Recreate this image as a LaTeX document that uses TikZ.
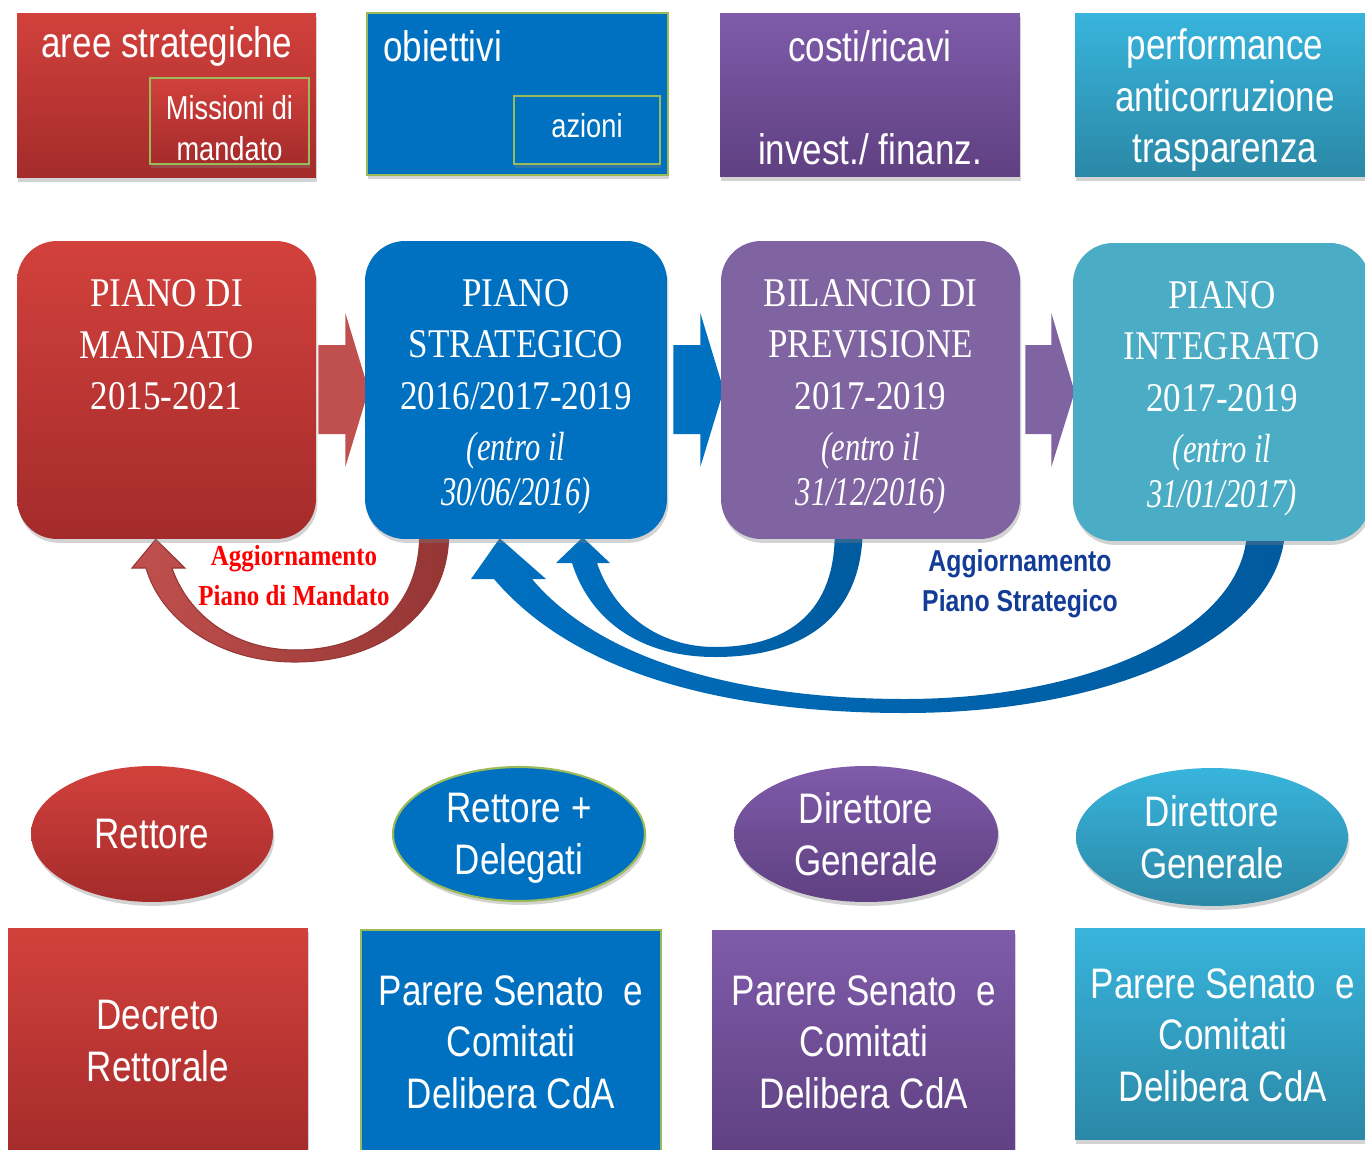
\documentclass[tikz,border=0pt]{standalone}
\usepackage{fontspec}
\usetikzlibrary{shadows,calc,shapes.geometric}
\newfontfamily\nsans[FakeStretch=0.82]{Liberation Sans}
\newfontfamily\nserif[FakeStretch=0.86]{Liberation Serif}
\newfontface\nserifit[FakeStretch=0.75]{Liberation Serif Italic}
\definecolor{rtop}{HTML}{D2413C}
\definecolor{rbot}{HTML}{A42B2B}
\definecolor{bluef}{HTML}{0070C0}
\definecolor{ptop}{HTML}{7F5BAA}
\definecolor{pbot}{HTML}{5F4081}
\definecolor{pmid}{HTML}{8064A2}
\definecolor{ttop}{HTML}{38B4DC}
\definecolor{tbot}{HTML}{2B88A6}
\definecolor{tmid}{HTML}{4BACC6}
\definecolor{lgreen}{HTML}{9BBB59}
\definecolor{arrred}{HTML}{C0504D}
\definecolor{arrreddk}{HTML}{943634}
\definecolor{bluedk}{HTML}{005A9E}
\definecolor{labblue}{HTML}{123C96}
\pgfdeclarelayer{bg}
\pgfsetlayers{bg,main}
\begin{document}
\begin{tikzpicture}[x=0.02cm,y=-0.02cm,
  shad/.style={drop shadow={shadow xshift=0.8pt,shadow yshift=-2.2pt,opacity=0.35}},
  box/.style={rectangle,inner sep=0pt,draw=none,shad},
  rbox/.style={box,rounded corners=0.8cm,minimum height=5.96cm},
  redg/.style={top color=rtop,bottom color=rbot},
  purg/.style={top color=ptop,bottom color=pbot},
  teag/.style={top color=ttop,bottom color=tbot},
  gborder/.style={draw=lgreen,line width=1.2pt},
  sans/.style={font=\nsans\fontsize{24.3}{29.3}\selectfont,text=white,align=center},
  small/.style={font=\nsans\fontsize{18.9}{23}\selectfont,text=white,align=center},
  serif/.style={font=\nserif\fontsize{23.2}{29.2}\selectfont,text=white,align=center},
  ell/.style={ellipse,inner sep=0pt,shad,sans},
]
\useasboundingbox (0,0) rectangle (1365,1149);

% ---------- top row ----------
\node[box,redg,minimum width=5.98cm,minimum height=3.3cm] (t1) at (166.5,95.5) {};
\node[sans] (t1a) at (167,46) {aree strategiche};
\node[box,redg,gborder,minimum width=3.18cm,minimum height=1.72cm] (t1b) at (229.5,121) {};
\node[small] (t1c) at (229.5,128) {Missioni di\\mandato};

\node[box,gborder,fill=bluef,minimum width=6.02cm,minimum height=3.24cm] (t2) at (517.5,94) {};
\node[sans,anchor=west] (t2a) at (377,46) {obiettivi};
\node[box,gborder,fill=bluef,minimum width=2.92cm,minimum height=1.36cm] (t2b) at (587,130) {};
\node[small] (t2c) at (587,126) {azioni};

\node[box,purg,minimum width=6cm,minimum height=3.28cm] (t3) at (870,95) {};
\node[sans] (t3a) at (870,46) {costi/ricavi};
\node[sans] (t3b) at (870,149) {invest./ finanz.};

\node[box,teag,minimum width=5.9cm,minimum height=3.28cm] (t4) at (1222.5,95) {};
\node[sans] (t4a) at (1225,100) {performance\\anticorruzione\\trasparenza};

% ---------- middle row ----------
\node[rbox,redg,minimum width=5.98cm] (m1) at (166.5,390) {};
\node[serif] (m1t) at (166.5,345) {PIANO DI\\MANDATO\\2015-2021};
\node[rbox,fill=bluef,minimum width=6.04cm] (m2) at (516,390) {};
\node[serif] (m2t) at (516,397) {PIANO\\STRATEGICO\\2016/2017-2019\\{\nserifit (entro il}\\[-3.5pt]{\nserifit 30/06/2016)}};
\node[rbox,fill=pmid,minimum width=5.98cm] (m3) at (870.5,390) {};
\node[serif] (m3t) at (870.5,397) {BILANCIO DI\\PREVISIONE\\2017-2019\\{\nserifit (entro il}\\[-3.5pt]{\nserifit 31/12/2016)}};
\node[rbox,fill=tmid,minimum width=5.94cm] (m4) at (1221.5,392) {};
\node[serif] (m4t) at (1222,399) {PIANO\\INTEGRATO\\2017-2019\\{\nserifit (entro il}\\[-3.5pt]{\nserifit 31/01/2017)}};

% ---------- block arrows between plans ----------
\begin{pgfonlayer}{bg}
\fill[arrred] ($(m1.east)+(2,-45)$) -- ++(27,0) -- ++(0,-32) -- ($(m2.west)+(4,0)$)
  -- ($(m1.east)+(29,77)$) -- ++(0,-33) -- ++(-27,0) -- cycle;
\fill[bluef] ($(m2.east)+(6,-45)$) -- ++(27,0) -- ++(0,-32) -- ($(m3.west)+(3,0)$)
  -- ($(m2.east)+(33,77)$) -- ++(0,-33) -- ++(-27,0) -- cycle;
\fill[pmid] ($(m3.east)+(5,-45)$) -- ++(26,0) -- ++(0,-32) -- ($(m4.west)+(2,0)$)
  -- ($(m3.east)+(31,77)$) -- ++(0,-33) -- ++(-26,0) -- cycle;

% ---------- curved update arrows ----------
\coordinate (ra) at ($(m2.south west)+(55,-6)$);
\coordinate (rb) at ($(m2.south west)+(84,-6)$);
\coordinate (rt) at ($(m1.south west)+(139,0)$);
\shade[left color=arrred,right color=arrreddk,draw=arrreddk,line width=0.6pt]
  (rb) .. controls (449,612) and (382,662) .. (295,662)
  .. controls (215,662) and (160,617) .. (146,568)
  -- (132,568) -- (rt) -- (185,568) -- (172,568)
  .. controls (190,620) and (240,650) .. (295,650)
  .. controls (372,650) and (420,605) .. (ra) -- cycle;

\coordinate (sa) at ($(m3.south west)+(114,-6)$);
\coordinate (sb) at ($(m3.south west)+(142,-6)$);
\coordinate (st) at ($(m2.south west)+(218,-2)$);
\shade[left color=bluef,right color=bluedk]
  (sb) .. controls (860,620) and (800,657) .. (715,657)
  .. controls (640,657) and (590,620) .. (572,563)
  -- (556,563) -- (st) -- (610,563) -- (597,563)
  .. controls (615,615) and (660,647) .. (715,647)
  .. controls (790,647) and (835,610) .. (sa) -- cycle;

\coordinate (ba) at ($(m4.south west)+(174,-6)$);
\coordinate (bb) at ($(m4.south west)+(212,-6)$);
\coordinate (bt) at ($(m2.south west)+(135,-1)$);
\shade[left color=bluef,right color=bluedk]
  (bb) .. controls (1275,640) and (1110,713) .. (905,713)
  .. controls (740,713) and (580,680) .. (494,579)
  -- (471,579) -- (bt) -- (546,579) -- (532,579)
  .. controls (600,660) and (740,699) .. (905,699)
  .. controls (1090,699) and (1240,630) .. (ba) -- cycle;
\end{pgfonlayer}

\node[font=\nserif\bfseries\fontsize{16.5}{22.7}\selectfont,text=red,align=center] (lab1) at (294,576) {Aggiornamento\\Piano di Mandato};
\node[font=\nsans\bfseries\fontsize{17.2}{22.7}\selectfont,text=labblue,align=center] (lab2) at (1020,584) {Aggiornamento\\Piano Strategico};

% ---------- ellipses ----------
\node[ell,redg,minimum width=4.84cm,minimum height=2.72cm] (e1) at (152,834) {Rettore};
\node[ell,fill=bluef,gborder,minimum width=5.04cm,minimum height=2.68cm] (e2) at (519,834) {};
\node[sans] (e2t) at (519,838) {Rettore +\\Delegati};
\node[ell,purg,minimum width=5.28cm,minimum height=2.72cm] (e3) at (866,834) {Direttore\\Generale};
\node[ell,teag,minimum width=5.44cm,minimum height=2.76cm] (e4) at (1212,837) {Direttore\\Generale};

% ---------- bottom row ----------
\node[box,redg,minimum width=6cm,minimum height=4.64cm] (b1) at (158,1044) {};
\node[sans] (b1t) at (158,1041) {Decreto\\Rettorale};
\node[box,fill=bluef,gborder,minimum width=6cm,minimum height=4.6cm] (b2) at (511,1045) {};
\node[sans] (b2t) at (511,1042) {Parere Senato~ e\\Comitati\\Delibera CdA};
\node[box,purg,minimum width=6.06cm,minimum height=4.6cm] (b3) at (863.5,1045) {};
\node[sans] (b3t) at (864,1042) {Parere Senato~ e\\Comitati\\Delibera CdA};
\node[box,teag,minimum width=5.9cm,minimum height=4.24cm] (b4) at (1222.5,1034) {};
\node[sans] (b4t) at (1223,1035) {Parere Senato~ e\\Comitati\\Delibera CdA};
\end{tikzpicture}
\end{document}
